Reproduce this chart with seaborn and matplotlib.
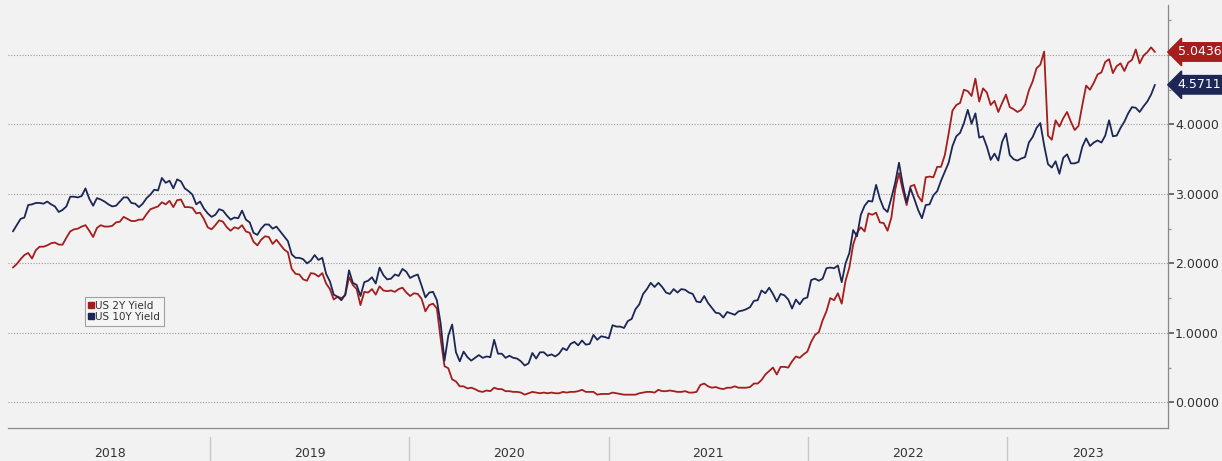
import numpy as np
import pandas as pd
import matplotlib
matplotlib.use("Agg")
import matplotlib.pyplot as plt
import matplotlib.dates as mdates
from matplotlib.lines import Line2D
from matplotlib.ticker import FixedLocator, FuncFormatter, MultipleLocator
from matplotlib.transforms import blended_transform_factory
import seaborn as sns

# ---------------- data (weekly closes) ----------------
years = ["2018", "2019", "2020", "2021", "2022", "2023"]
series_names = ["US 2Y Yield", "US 10Y Yield"]

us2y_2018 = [1.94, 1.99, 2.06, 2.12, 2.15, 2.07, 2.19, 2.24, 2.24, 2.26,
             2.29, 2.30, 2.27, 2.27, 2.37, 2.46, 2.49, 2.50, 2.53, 2.55,
             2.47, 2.38, 2.51, 2.55, 2.53, 2.53, 2.54, 2.59, 2.60, 2.67,
             2.64, 2.61, 2.61, 2.63, 2.63, 2.71, 2.78, 2.80, 2.82, 2.88,
             2.85, 2.90, 2.81, 2.91, 2.92, 2.81, 2.81, 2.80, 2.72, 2.73,
             2.64, 2.52]
us10y_2018 = [2.46, 2.55, 2.64, 2.66, 2.84, 2.85, 2.87, 2.87, 2.86, 2.89,
              2.85, 2.82, 2.74, 2.77, 2.82, 2.96, 2.96, 2.95, 2.97, 3.08,
              2.93, 2.83, 2.94, 2.92, 2.89, 2.85, 2.82, 2.83, 2.89, 2.95,
              2.95, 2.87, 2.86, 2.81, 2.86, 2.94, 2.99, 3.06, 3.05, 3.23,
              3.16, 3.19, 3.08, 3.21, 3.18, 3.08, 3.04, 2.99, 2.85, 2.89,
              2.79, 2.72]

us2y_2019 = [2.49, 2.55, 2.62, 2.60, 2.52, 2.47, 2.52, 2.50, 2.55, 2.46,
             2.44, 2.31, 2.26, 2.34, 2.39, 2.38, 2.28, 2.34, 2.27, 2.20,
             2.16, 1.92, 1.85, 1.84, 1.77, 1.75, 1.86, 1.85, 1.81, 1.86,
             1.71, 1.63, 1.48, 1.52, 1.50, 1.54, 1.80, 1.69, 1.63, 1.40,
             1.59, 1.58, 1.63, 1.55, 1.67, 1.61, 1.60, 1.61, 1.59, 1.63,
             1.65, 1.58]
us10y_2019 = [2.67, 2.70, 2.78, 2.76, 2.69, 2.63, 2.66, 2.65, 2.76, 2.63,
              2.59, 2.44, 2.41, 2.50, 2.56, 2.56, 2.50, 2.53, 2.46, 2.39,
              2.32, 2.13, 2.08, 2.08, 2.06, 2.00, 2.04, 2.12, 2.05, 2.08,
              1.85, 1.74, 1.55, 1.52, 1.47, 1.55, 1.90, 1.72, 1.69, 1.53,
              1.73, 1.75, 1.80, 1.71, 1.94, 1.83, 1.77, 1.78, 1.84, 1.82,
              1.92, 1.88]

us2y_2020 = [1.53, 1.57, 1.56, 1.49, 1.31, 1.40, 1.42, 1.35, 0.91, 0.52,
             0.49, 0.33, 0.30, 0.23, 0.23, 0.20, 0.21, 0.19, 0.16, 0.15,
             0.17, 0.16, 0.21, 0.19, 0.19, 0.16, 0.16, 0.15, 0.15, 0.14,
             0.11, 0.13, 0.15, 0.14, 0.13, 0.14, 0.13, 0.14, 0.13, 0.13,
             0.15, 0.14, 0.15, 0.15, 0.16, 0.18, 0.15, 0.15, 0.15, 0.11,
             0.12, 0.12]
us10y_2020 = [1.79, 1.82, 1.84, 1.68, 1.51, 1.58, 1.59, 1.47, 1.13, 0.60,
              0.96, 1.12, 0.72, 0.59, 0.73, 0.65, 0.60, 0.64, 0.68, 0.64,
              0.66, 0.65, 0.90, 0.70, 0.70, 0.64, 0.67, 0.64, 0.63, 0.59,
              0.53, 0.56, 0.71, 0.63, 0.72, 0.72, 0.67, 0.69, 0.66, 0.70,
              0.78, 0.75, 0.84, 0.87, 0.82, 0.89, 0.83, 0.84, 0.97, 0.90,
              0.95, 0.94]

us2y_2021 = [0.12, 0.14, 0.13, 0.12, 0.11, 0.11, 0.11, 0.11, 0.13, 0.14,
             0.15, 0.15, 0.14, 0.18, 0.16, 0.16, 0.17, 0.16, 0.15, 0.15,
             0.16, 0.14, 0.14, 0.15, 0.25, 0.27, 0.23, 0.21, 0.22, 0.20,
             0.19, 0.21, 0.21, 0.23, 0.21, 0.21, 0.21, 0.22, 0.27, 0.27,
             0.32, 0.40, 0.45, 0.50, 0.40, 0.51, 0.51, 0.50, 0.59, 0.66,
             0.64, 0.69, 0.73]
us10y_2021 = [0.92, 1.11, 1.09, 1.09, 1.07, 1.17, 1.20, 1.34, 1.41, 1.56,
              1.63, 1.72, 1.66, 1.72, 1.66, 1.58, 1.56, 1.63, 1.58, 1.63,
              1.62, 1.58, 1.56, 1.45, 1.44, 1.53, 1.43, 1.36, 1.29, 1.28,
              1.22, 1.30, 1.28, 1.26, 1.31, 1.32, 1.34, 1.37, 1.46, 1.47,
              1.61, 1.57, 1.65, 1.56, 1.45, 1.56, 1.54, 1.48, 1.35, 1.48,
              1.41, 1.49, 1.51]

us2y_2022 = [0.87, 0.97, 1.01, 1.18, 1.31, 1.50, 1.47, 1.57, 1.42, 1.75,
             1.94, 2.27, 2.44, 2.52, 2.46, 2.72, 2.70, 2.73, 2.59, 2.58,
             2.47, 2.66, 3.06, 3.30, 3.05, 2.84, 3.11, 3.13, 2.97, 2.89,
             3.24, 3.25, 3.24, 3.39, 3.39, 3.56, 3.87, 4.20, 4.28, 4.31,
             4.50, 4.48, 4.41, 4.66, 4.33, 4.52, 4.46, 4.28, 4.34, 4.18,
             4.31, 4.43]
us10y_2022 = [1.76, 1.78, 1.75, 1.78, 1.93, 1.94, 1.93, 1.97, 1.73, 2.00,
              2.15, 2.48, 2.39, 2.70, 2.83, 2.90, 2.89, 3.13, 2.93, 2.79,
              2.74, 2.94, 3.16, 3.45, 3.13, 2.88, 3.08, 2.93, 2.77, 2.65,
              2.84, 2.85, 2.98, 3.04, 3.19, 3.32, 3.45, 3.69, 3.83, 3.88,
              4.02, 4.21, 4.01, 4.16, 3.81, 3.83, 3.68, 3.49, 3.58, 3.48,
              3.75, 3.87]

us2y_2023 = [4.25, 4.22, 4.18, 4.21, 4.29, 4.49, 4.62, 4.81, 4.86, 5.05,
             3.84, 3.78, 4.06, 3.97, 4.09, 4.18, 4.04, 3.92, 3.98, 4.28,
             4.56, 4.50, 4.60, 4.72, 4.75, 4.90, 4.94, 4.74, 4.84, 4.88,
             4.77, 4.89, 4.93, 5.08, 4.88, 4.99, 5.04, 5.11, 5.0436]
us10y_2023 = [3.56, 3.50, 3.48, 3.51, 3.53, 3.74, 3.82, 3.95, 4.02, 3.70,
              3.43, 3.38, 3.47, 3.29, 3.52, 3.57, 3.44, 3.44, 3.46, 3.68,
              3.80, 3.69, 3.74, 3.77, 3.74, 3.84, 4.06, 3.83, 3.84, 3.95,
              4.04, 4.16, 4.25, 4.24, 4.18, 4.26, 4.33, 4.43, 4.5711]

ytick_values = [0, 1, 2, 3, 4, 5]

# ---------------- build frame ----------------
us2y = us2y_2018 + us2y_2019 + us2y_2020 + us2y_2021 + us2y_2022 + us2y_2023
us10y = us10y_2018 + us10y_2019 + us10y_2020 + us10y_2021 + us10y_2022 + us10y_2023
dates = pd.date_range("2018-01-05", periods=len(us2y), freq="W-FRI")

df = pd.DataFrame({
    "date": np.concatenate([dates, dates]),
    "yield": us2y + us10y,
    "series": [series_names[0]] * len(us2y) + [series_names[1]] * len(us10y),
})

RED = "#a51d1d"
NAVY = "#1c2755"
BG = "#f2f2f2"
palette = {series_names[0]: RED, series_names[1]: NAVY}

sns.set_theme(style="white")
plt.rcParams["font.family"] = ["DejaVu Sans"]

fig, ax = plt.subplots(figsize=(12.22, 4.61), dpi=100)
fig.patch.set_facecolor(BG)
ax.set_facecolor(BG)
fig.subplots_adjust(left=8 / 1222, right=1168 / 1222, top=1 - 5 / 461, bottom=1 - 428 / 461)

sns.lineplot(data=df, x="date", y="yield", hue="series", palette=palette,
             linewidth=1.3, legend=False, ax=ax, zorder=3)

x0 = pd.Timestamp("2017-12-27")
x1 = pd.Timestamp("2023-10-23")
ax.set_xlim(x0, x1)
ax.set_ylim(-0.37, 5.72)

# grid
for v in ytick_values:
    ax.axhline(v, color="#9a9a9a", linestyle=(0, (1, 1.5)), linewidth=0.8, zorder=1)

# spines
for s in ["top", "left"]:
    ax.spines[s].set_visible(False)
ax.spines["right"].set_color("#8a8a8a")
ax.spines["bottom"].set_color("#8a8a8a")
ax.spines["right"].set_linewidth(0.9)
ax.spines["bottom"].set_linewidth(0.9)

# y axis on right
ax.yaxis.tick_right()
ax.yaxis.set_major_locator(FixedLocator(ytick_values))
ax.yaxis.set_major_formatter(FuncFormatter(lambda v, p: "" if v >= 5 else f"{v:.4f}"))
ax.yaxis.set_minor_locator(MultipleLocator(0.5))
ax.tick_params(axis="y", which="major", right=True, length=4, width=1.2, color="#555555",
               labelsize=9, labelcolor="#333333", pad=1)
ax.tick_params(axis="y", which="minor", right=True, length=2, color="#999999")
ax.set_ylabel("")
ax.set_xlabel("")

# x axis: monthly small ticks, year labels
ax.xaxis.set_major_locator(mdates.MonthLocator())
ax.xaxis.set_major_formatter(FuncFormatter(lambda v, p: ""))
ax.tick_params(axis="x", which="major", direction="inout", length=5, color="#777777", width=0.8)

year_starts = [pd.Timestamp(f"{y}-01-01") for y in years] + [pd.Timestamp("2024-01-01")]
label_pos = []
for i, y in enumerate(years):
    a = max(year_starts[i], x0)
    b = min(year_starts[i + 1], x1)
    label_pos.append(mdates.date2num(a) + (mdates.date2num(b) - mdates.date2num(a)) / 2)
ax.xaxis.set_minor_locator(FixedLocator(label_pos))
ax.xaxis.set_minor_formatter(FuncFormatter(lambda v, p: years[p] if p is not None and p < len(years) else ""))
ax.tick_params(axis="x", which="minor", length=0, pad=14, labelsize=9, labelcolor="#333333")

trans = blended_transform_factory(ax.transData, ax.transAxes)
for ys in year_starts[1:-1]:
    ax.plot([ys, ys], [-0.022, -0.085], transform=trans, color="#c8c8c8",
            linewidth=1.0, clip_on=False)

# last value tags
for vals, col in [(us2y, RED), (us10y, NAVY)]:
    ax.annotate(f"{vals[-1]:.4f}", xy=(1.0, vals[-1]), xycoords=("axes fraction", "data"),
                xytext=(7, 0), textcoords="offset points", ha="left", va="center",
                color="white", fontsize=9, zorder=10, annotation_clip=False,
                bbox=dict(boxstyle="larrow,pad=0.22", fc=col, ec=col))

# legend
handles = [Line2D([0], [0], marker="s", linestyle="", markersize=5, color=RED),
           Line2D([0], [0], marker="s", linestyle="", markersize=5, color=NAVY)]
leg = ax.legend(handles, series_names, loc="upper left", bbox_to_anchor=(0.066, 0.31),
                fontsize=7.5, frameon=True, fancybox=False, edgecolor="#a0a0a0",
                facecolor="#f5f5f5", framealpha=1, handlelength=0.5, handletextpad=0.2,
                labelspacing=0.15, borderpad=0.35, borderaxespad=0)
leg.get_frame().set_linewidth(0.8)
for t in leg.get_texts():
    t.set_color("#333333")

fig.savefig("out.png", dpi=100, facecolor=BG)
